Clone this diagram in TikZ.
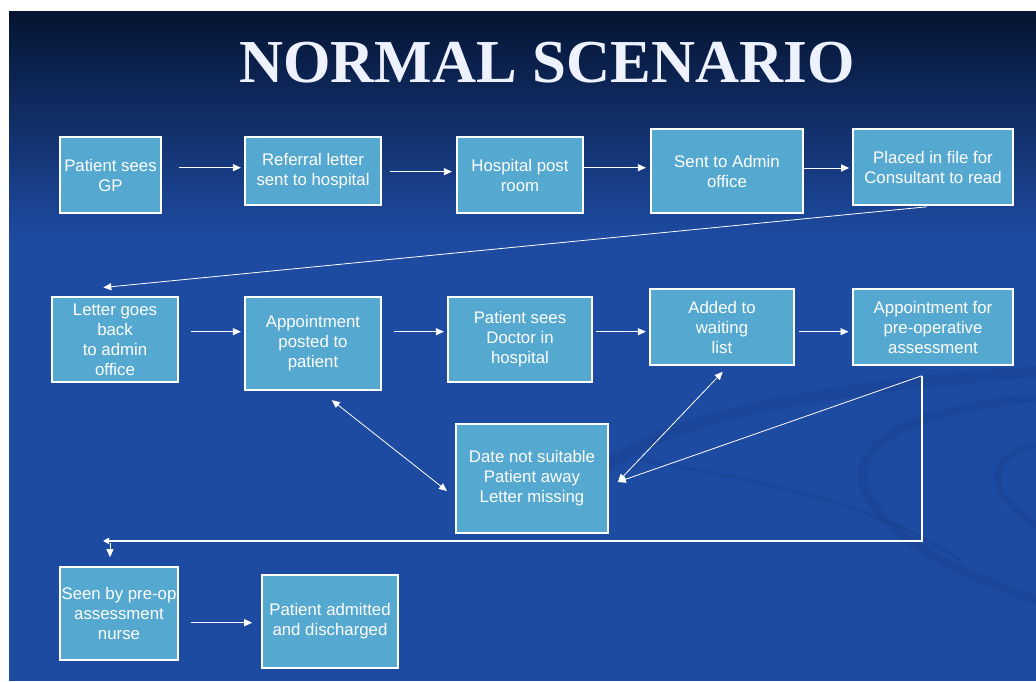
\documentclass[tikz,border=0pt]{standalone}
\usepackage{fontspec}
\setmainfont{Liberation Sans}
\newfontfamily\titlefont{Liberation Serif}
\usetikzlibrary{arrows.meta}
\definecolor{boxfill}{RGB}{85,168,208}
\definecolor{bgtop}{RGB}{5,20,50}
\definecolor{bgmid}{RGB}{20,52,120}
\definecolor{bgbot}{RGB}{30,75,162}
\definecolor{swirlc}{RGB}{24,62,140}
\definecolor{titlewhite}{RGB}{238,242,255}
\begin{document}
\begin{tikzpicture}[x=1pt,y=-1pt,
  stepbox/.style={draw=white, line width=1.6pt, fill=boxfill, text=white, align=center,
    inner sep=0pt, font=\fontsize{16.8}{20}\selectfont},
  arr/.style={draw=white, line width=0.8pt, -{Triangle[length=8pt,width=7pt]}},
  darr/.style={draw=white, line width=0.8pt, {Triangle[length=8pt,width=7pt]}-{Triangle[length=8pt,width=7pt]}},
  thickline/.style={draw=white, line width=1.8pt},
  swirl/.style={draw=swirlc, opacity=0.4, line cap=round},
  titlestyle/.style={font=\titlefont\bfseries\fontsize{61}{61}\selectfont, anchor=base, inner sep=0pt}
]
\useasboundingbox (0,0) rectangle (1036,682);
\fill[white] (0,0) rectangle (1036,682);
\fill[bgbot] (9,230) rectangle (1036,681);
\shade[top color=bgtop, middle color=bgmid, bottom color=bgbot] (9,12) rectangle (1036,240);

% background swirls
\draw[swirl, line width=12pt] (600,470) .. controls (680,410) and (850,385) .. (1036,372);
\draw[swirl, line width=9pt] (1036,398) .. controls (900,410) and (840,450) .. (870,500) .. controls (900,550) and (980,580) .. (1036,600);
\draw[swirl, line width=7pt] (1036,445) .. controls (990,455) and (980,490) .. (1036,525);
\draw[swirl, line width=3pt] (640,460) .. controls (760,480) and (880,505) .. (960,560);

% title
\node[titlestyle, text=titlewhite] (title) at (547,82.5) {NORMAL SCENARIO};

% boxes
\node[stepbox, minimum width=101pt, minimum height=76pt] (n1) at (110.5,175) {Patient sees\\GP};
\node[stepbox, minimum width=136pt, minimum height=68pt] (n2) at (313,171) {Referral letter\\sent to hospital};
\node[stepbox, minimum width=126pt, minimum height=76pt] (n3) at (520,175) {Hospital post\\room};
\node[stepbox, minimum width=152pt, minimum height=84pt] (n4) at (727,171) {Sent to Admin\\office};
\node[stepbox, minimum width=160pt, minimum height=76pt] (n5) at (933,167) {Placed in file for\\Consultant to read};
\node[stepbox, minimum width=126pt, minimum height=85pt] (n6) at (115,339.5) {Letter goes\\back\\to admin\\office};
\node[stepbox, minimum width=136pt, minimum height=93pt] (n7) at (313,343.5) {Appointment\\posted to\\patient};
\node[stepbox, minimum width=144pt, minimum height=85pt] (n8) at (520,339.5) {Patient sees\\Doctor in\\hospital};
\node[stepbox, minimum width=144pt, minimum height=76pt] (n9) at (722,327) {Added to\\waiting\\list};
\node[stepbox, minimum width=160pt, minimum height=76pt] (n10) at (933,327) {Appointment for\\pre-operative\\assessment};
\node[stepbox, minimum width=152pt, minimum height=109pt] (n11) at (532,478.5) {Date not suitable\\Patient away\\Letter missing};
\node[stepbox, minimum width=118pt, minimum height=93pt] (n12) at (119,613.5) {Seen by pre-op\\assessment\\nurse};
\node[stepbox, minimum width=136pt, minimum height=93pt] (n13) at (330,621.5) {Patient admitted\\and discharged};

% row 1 arrows
\draw[arr] ([shift={(17,-7.3)}]n1.east) -- ([shift={(-3.3,-3.3)}]n2.west);
\draw[arr] ([shift={(8,0.7)}]n2.east) -- ([shift={(-4.3,-3.3)}]n3.west);
\draw[arr] ([shift={(0,-7.3)}]n3.east) -- ([shift={(-4.3,-3.3)}]n4.west);
\draw[arr] ([shift={(0,-3)}]n4.east) -- ([shift={(-3,1)}]n5.west);
% row 1 to row 2
\draw[arr] ([shift={(-6.3,1)}]n5.south) -- ([shift={(-11.7,-8.7)}]n6.north);
% row 2 arrows
\draw[arr] ([shift={(12,-7.8)}]n6.east) -- ([shift={(-3.3,-11.8)}]n7.west);
\draw[arr] ([shift={(12,-11.8)}]n7.east) -- ([shift={(-3.3,-7.8)}]n8.west);
\draw[arr] ([shift={(3,-7.8)}]n8.east) -- ([shift={(-3.3,4.7)}]n9.west);
\draw[arr] ([shift={(4,4.7)}]n9.east) -- ([shift={(-3.7,4.7)}]n10.west);
% problem box
\draw[darr] ([shift={(18.8,9.3)}]n7.south) -- ([shift={(-8.2,12.5)}]n11.west);
\draw[darr] ([shift={(9,3.5)}]n11.east) -- ([shift={(0.7,6)}]n9.south);
\coordinate (c1) at ([shift={(-11.3,10)}]n10.south);
\coordinate (c2) at ([shift={(-9,-25.3)}]n12.north);
\draw[arr] (c1) -- ([shift={(9,3.5)}]n11.east);
% return path
\draw[thickline, -{Triangle[length=6pt,width=6pt]}] (c1) |- ([xshift=-7pt]c2);
\draw[arr] ([yshift=-2pt]c2) -- ([shift={(-9,-9)}]n12.north);
% row 3
\draw[arr] ([shift={(12,9.2)}]n12.east) -- ([shift={(-9,1.2)}]n13.west);
\end{tikzpicture}
\end{document}
